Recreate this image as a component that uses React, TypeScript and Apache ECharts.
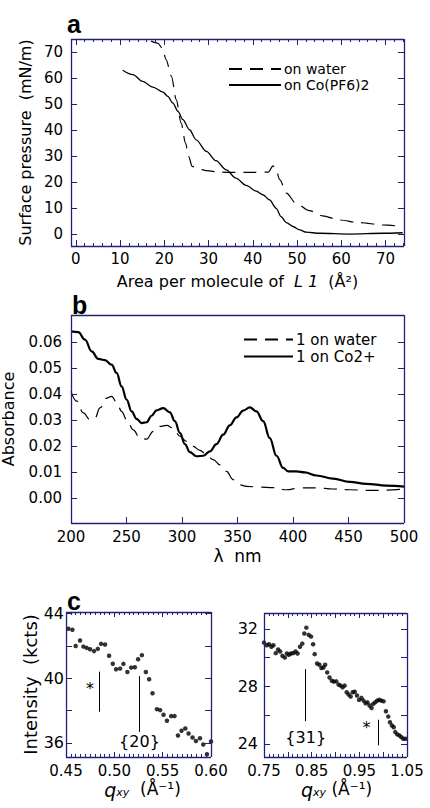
import React, { useEffect, useRef } from 'react';
import * as echarts from 'echarts';

const FONT = 'DejaVu Sans';
const FRAME = '#202078';

// ---------- Panel a : surface pressure isotherms ----------
const aWaterX = [17.0, 18.5, 19.6, 20.4, 21.6, 22.7, 23.8, 24.8, 25.5, 26.3, 27.6, 29.5, 32.5, 35.5, 40.0, 43.5, 44.6, 45.3, 46.1, 47.6, 49.8, 52.8, 55.8, 59.6, 64.1, 69.4, 73.9];
const aWaterY = [74.3, 73.5, 71.5, 67.2, 60.8, 51.8, 42.8, 35.1, 29.9, 26.1, 25.2, 24.5, 23.9, 23.8, 23.8, 23.9, 26.3, 24.5, 21.0, 15.8, 11.9, 9.1, 7.1, 5.5, 4.5, 3.6, 3.0];
const aCoX = [10.6, 12.9, 15.1, 17.4, 19.7, 20.8, 21.9, 23.1, 24.2, 25.7, 27.2, 29.5, 31.7, 34.0, 36.2, 38.5, 40.8, 42.3, 43.8, 45.3, 46.4, 47.6, 49.1, 50.6, 52.1, 55.1, 61.9, 69.4, 73.9];
const aCoY = [63.1, 61.4, 58.8, 56.6, 54.7, 53.0, 50.5, 47.3, 44.1, 40.2, 36.3, 31.9, 28.3, 24.8, 21.6, 18.8, 16.6, 15.2, 13.2, 10.0, 6.8, 4.5, 3.0, 1.7, 0.8, 0.4, 0.1, 0.4, 0.6];
const aXTicks = [0, 10, 20, 30, 40, 50, 60, 70];
const aYTicks = [0, 10, 20, 30, 40, 50, 60, 70];

// ---------- Panel b : absorbance spectra ----------
const bCoX = [200, 206.6, 212.6, 218.6, 224.6, 230.6, 236.6, 241.1, 245.6, 250.1, 254.6, 259.1, 263.6, 268.1, 272.6, 277.1, 283.1, 289.1, 293.6, 298.1, 302.6, 307.1, 313.1, 319.1, 325.1, 331.1, 337.1, 343.1, 349.1, 355.1, 361.1, 367.1, 373.1, 379.1, 385.1, 391.1, 395.6, 403.1, 410.6, 421.1, 436.1, 451.1, 466.1, 484.1, 500];
const bCoY = [0.0642, 0.0639, 0.061, 0.0565, 0.0536, 0.0531, 0.0514, 0.0482, 0.043, 0.0379, 0.0334, 0.0305, 0.0289, 0.0292, 0.0317, 0.0338, 0.0346, 0.033, 0.0296, 0.0251, 0.0208, 0.0177, 0.0161, 0.0163, 0.018, 0.0208, 0.0244, 0.028, 0.0311, 0.0337, 0.0349, 0.0334, 0.0296, 0.0231, 0.0163, 0.0116, 0.0103, 0.0103, 0.0099, 0.0087, 0.0075, 0.0062, 0.0055, 0.0048, 0.0044];
const bWaterX = [200, 205.1, 211.1, 217.1, 221.6, 226.1, 232.1, 236.6, 241.1, 245.6, 250.1, 256.1, 262.1, 268.1, 274.1, 280.1, 286.1, 292.1, 298.1, 304.1, 310.1, 316.1, 322.1, 328.1, 334.1, 340.1, 346.1, 352.1, 358.1, 370.1, 382.1, 394.1, 406.1, 421.1, 436.1, 451.1, 466.1, 481.1, 500];
const bWaterY = [0.0411, 0.0373, 0.0328, 0.0302, 0.0308, 0.0347, 0.0385, 0.0392, 0.0369, 0.0334, 0.0302, 0.0263, 0.0231, 0.0227, 0.0257, 0.0276, 0.028, 0.027, 0.0238, 0.0218, 0.0199, 0.0184, 0.0167, 0.0148, 0.0128, 0.0103, 0.0071, 0.0051, 0.0045, 0.0042, 0.004, 0.0032, 0.0039, 0.0039, 0.0035, 0.0032, 0.003, 0.003, 0.0035];
const bXTicks = [200, 250, 300, 350, 400, 450, 500];
const bYTicks = [0, 0.01, 0.02, 0.03, 0.04, 0.05, 0.06];

// ---------- Panel c : GIXD scans ----------
const c1X = [0.4524, 0.4566, 0.460, 0.4645, 0.468, 0.4714, 0.4749, 0.479, 0.4829, 0.4863, 0.4904, 0.4946, 0.4984, 0.5018, 0.506, 0.5094, 0.5135, 0.5174, 0.5212, 0.5246, 0.5285, 0.5326, 0.536, 0.5395, 0.544, 0.5474, 0.5509, 0.5544, 0.5588, 0.5623, 0.5658, 0.5695, 0.5734, 0.5768, 0.5809, 0.5844, 0.5886, 0.592, 0.5958, 0.6];
const c1Y = [43.06, 43.0, 42.0, 42.34, 41.96, 41.88, 41.8, 41.68, 41.82, 42.13, 42.09, 41.39, 40.9, 40.56, 40.6, 40.89, 40.39, 40.66, 40.68, 41.18, 41.43, 40.39, 39.94, 39.07, 38.09, 38.03, 37.74, 37.37, 37.66, 37.66, 36.46, 36.75, 36.89, 36.58, 36.34, 36.12, 36.29, 35.9, 35.3, 36.09];
const c2X = [0.75, 0.7557, 0.7606, 0.7655, 0.7697, 0.7747, 0.7796, 0.7838, 0.7887, 0.7937, 0.798, 0.8022, 0.8064, 0.8113, 0.8162, 0.8204, 0.8255, 0.8303, 0.8346, 0.8388, 0.8437, 0.8487, 0.853, 0.8563, 0.8614, 0.8663, 0.8705, 0.8747, 0.8783, 0.8826, 0.8874, 0.8923, 0.8965, 0.9016, 0.9064, 0.9107, 0.9149, 0.9191, 0.9234, 0.9276, 0.9318, 0.9361, 0.9403, 0.9451, 0.9494, 0.9544, 0.9587, 0.9629, 0.9671, 0.9713, 0.9756, 0.979, 0.9832, 0.9874, 0.9917, 0.9959, 1.0009, 1.0058, 1.0107, 1.0143, 1.0185, 1.0221, 1.0254, 1.0296, 1.0339, 1.0381, 1.0423, 1.0474];
const c2Y = [31.04, 30.86, 30.93, 30.75, 30.86, 30.31, 30.56, 30.42, 30.12, 30.0, 30.28, 30.19, 30.28, 30.31, 30.42, 30.28, 30.75, 30.97, 31.67, 32.08, 31.58, 31.46, 30.93, 30.24, 29.59, 29.5, 29.27, 29.31, 29.5, 28.97, 28.62, 28.39, 28.33, 28.35, 28.12, 28.05, 27.93, 28.05, 27.59, 27.43, 27.29, 27.59, 27.63, 27.36, 27.06, 27.2, 27.01, 26.82, 26.89, 26.67, 26.5, 26.78, 26.89, 27.01, 27.06, 27.01, 26.96, 26.27, 25.9, 25.51, 25.28, 25.16, 24.82, 24.66, 24.59, 24.47, 24.36, 24.36];
const c1XTicks = [0.45, 0.5, 0.55, 0.6];
const c1YTicks = [36, 38, 40, 42, 44];
const c1YLabels = [36, 40, 44];
const c2XTicks = [0.75, 0.8, 0.85, 0.9, 0.95, 1.0, 1.05];
const c2XLabels = [0.75, 0.85, 0.95, 1.05];
const c2YTicks = [24, 26, 28, 30, 32];
const c2YLabels = [24, 28, 32];
// reflection markers: [x, yLow, yHigh]
const c1Marks = [[0.4845, 37.93, 40.41], [0.526, 36.68, 40.14]];
const c1Texts: [number, number, string][] = [[0.4749, 39.38, '*'], [0.526, 36.06, '{20}']];
const c2Marks = [[0.8375, 25.58, 29.2], [0.99, 23.9, 25.68]];
const c2Texts: [number, number, string][] = [[0.8375, 24.47, '{31}'], [0.965, 25.16, '*']];

const zip = (xs: number[], ys: number[]) => xs.map((x, i) => [x, ys[i]]);
const steps = (a: number, b: number, s: number) => {
  const out: number[] = [];
  for (let i = 0; a + i * s <= b + 1e-9; i++) out.push(+(a + i * s).toFixed(6));
  return out;
};

type Ax = {
  min: number; max: number; major: number[]; minor: number[]; labels: number[];
  fmt: (v: number) => string; fontSize: number; margin: number;
  majorLen: number; minorLen: number; far: boolean; farMinor: boolean;
  name?: string; nameGap?: number; nameStyle?: any;
};
type Box = { left: number; top: number; width: number; height: number };

function axisOpt(grid: number, s: Ax, isX: boolean) {
  const o: any = {
    type: 'value', gridIndex: grid, min: s.min, max: s.max,
    position: isX ? 'bottom' : 'left',
    splitLine: { show: false }, splitArea: { show: false },
    axisLine: { show: false, onZero: false },
    axisTick: { show: false },
    axisLabel: { show: true, customValues: s.labels.slice(), formatter: s.fmt, color: '#000', fontFamily: FONT, fontSize: s.fontSize, margin: s.margin },
  };
  if (s.name) {
    o.name = s.name;
    o.nameLocation = 'middle';
    o.nameGap = s.nameGap;
    o.nameTextStyle = s.nameStyle;
  }
  return o;
}

// frame + inward ticks as markLine segments in the axes' data coordinates
function frameLines(X: Ax, Y: Ax, box: Box, color: string) {
  const dx = (X.max - X.min) / box.width;
  const dy = (Y.max - Y.min) / box.height;
  const out: any[] = [];
  const add = (x1: number, y1: number, x2: number, y2: number, w: number) =>
    out.push([{ coord: [x1, y1], lineStyle: { width: w, color } }, { coord: [x2, y2] }]);
  add(X.min, Y.min, X.max, Y.min, 1.3);
  add(X.min, Y.max, X.max, Y.max, 1.3);
  add(X.min, Y.min, X.min, Y.max, 1.3);
  add(X.max, Y.min, X.max, Y.max, 1.3);
  const xt = (vals: number[], len: number, far: boolean) => vals.forEach((v) => {
    add(v, Y.min, v, Y.min + len * dy, 1);
    if (far) add(v, Y.max, v, Y.max - len * dy, 1);
  });
  const yt = (vals: number[], len: number, far: boolean) => vals.forEach((v) => {
    add(X.min, v, X.min + len * dx, v, 1);
    if (far) add(X.max, v, X.max - len * dx, v, 1);
  });
  xt(X.major, X.majorLen, X.far);
  xt(X.minor, X.minorLen, X.farMinor);
  yt(Y.major, Y.majorLen, Y.far);
  yt(Y.minor, Y.minorLen, Y.farMinor);
  return out;
}

const markLineOf = (marks: number[][], frame: any[]) => ({
  silent: true, symbol: ['none', 'none'], label: { show: false },
  lineStyle: { color: '#000', width: 1, type: 'solid' },
  emphasis: { disabled: true },
  data: [
    ...frame,
    ...marks.map(([x, y1, y2]) => [{ coord: [x, y1] }, { coord: [x, y2] }]),
  ],
});

function textSeries(g: number, texts: [number, number, string][]) {
  return {
    type: 'scatter', name: 'txt' + g, xAxisIndex: g, yAxisIndex: g, silent: true,
    symbol: 'circle', symbolSize: 0, itemStyle: { color: '#000', opacity: 0 },
    data: texts.map(([x, y, t]) => ({ value: [x, y], name: t })),
    label: {
      show: true, position: 'inside', formatter: (p: any) => p.name, color: '#000',
      fontFamily: FONT, fontSize: 16, opacity: 1,
    },
    labelLayout: { hideOverlap: false },
    emphasis: { disabled: true },
  };
}

const qRich = {
  q: { fontSize: 19, fontStyle: 'italic', fontFamily: FONT, color: '#000', lineHeight: 18, verticalAlign: 'top' },
  s: { fontSize: 11, fontStyle: 'italic', fontFamily: FONT, color: '#000', lineHeight: 2, verticalAlign: 'bottom' },
  n: { fontSize: 17, fontFamily: FONT, color: '#000', lineHeight: 18, verticalAlign: 'top' },
};

export default function App() {
  const ref = useRef<HTMLDivElement>(null);
  useEffect(() => {
    if (!ref.current) return;
    const chart = echarts.init(ref.current, undefined, { renderer: 'svg' });

    const aX: Ax = {
      min: -1.1, max: 74.2, major: aXTicks, minor: steps(0, 74, 2), labels: aXTicks, fmt: (v) => String(v),
      fontSize: 15, margin: 5, majorLen: 6, minorLen: 3, far: true, farMinor: true,
      name: 'Area per molecule of  {i|L 1}  (Å²)', nameGap: 27,
      nameStyle: { fontFamily: FONT, fontSize: 16, color: '#000', rich: { i: { fontFamily: FONT, fontSize: 16, fontStyle: 'italic', color: '#000' } } },
    };
    const aY: Ax = {
      min: -4.5, max: 75.1, major: aYTicks, minor: [], labels: aYTicks, fmt: (v) => String(v),
      fontSize: 15, margin: 8, majorLen: 6, minorLen: 3, far: true, farMinor: false,
      name: 'Surface pressure  (mN/m)', nameGap: 38, nameStyle: { fontFamily: FONT, fontSize: 16, color: '#000' },
    };
    const bX: Ax = {
      min: 200, max: 500, major: bXTicks, minor: [], labels: bXTicks, fmt: (v) => String(v),
      fontSize: 15, margin: 6, majorLen: 6, minorLen: 3, far: false, farMinor: false,
      name: 'λ  nm', nameGap: 24, nameStyle: { fontFamily: FONT, fontSize: 17, color: '#000' },
    };
    const bY: Ax = {
      min: -0.0096, max: 0.0705, major: bYTicks, minor: [], labels: bYTicks, fmt: (v) => v.toFixed(2),
      fontSize: 15, margin: 9, majorLen: 6, minorLen: 3, far: true, farMinor: false,
      name: 'Absorbance', nameGap: 55, nameStyle: { fontFamily: FONT, fontSize: 16, color: '#000' },
    };
    const c1XA: Ax = {
      min: 0.45, max: 0.6, major: c1XTicks, minor: steps(0.45, 0.6, 0.005), labels: c1XTicks, fmt: (v) => v.toFixed(2),
      fontSize: 15, margin: 6, majorLen: 5, minorLen: 3, far: true, farMinor: true,
      name: '{q|q}{s|xy}{n|  (Å⁻¹)}', nameGap: 23, nameStyle: { fontFamily: FONT, fontSize: 17, color: '#000', rich: qRich, padding: [0, 0, 0, 8] },
    };
    const c1YA: Ax = {
      min: 35.13, max: 44.1, major: c1YTicks, minor: [], labels: c1YLabels, fmt: (v) => String(v),
      fontSize: 16, margin: 2, majorLen: 6, minorLen: 3, far: true, farMinor: false,
      name: 'Intensity  (kcts)', nameGap: 24, nameStyle: { fontFamily: FONT, fontSize: 18, color: '#000' },
    };
    const c2XA: Ax = {
      min: 0.75, max: 1.05, major: c2XTicks, minor: steps(0.75, 1.05, 0.01), labels: c2XLabels, fmt: (v) => v.toFixed(2),
      fontSize: 15, margin: 6, majorLen: 5, minorLen: 3, far: true, farMinor: true,
      name: '{q|q}{s|xy}{n| (Å⁻¹)}', nameGap: 23, nameStyle: { fontFamily: FONT, fontSize: 17, color: '#000', rich: qRich, padding: [0, 0, 0, 2] },
    };
    const c2YA: Ax = {
      min: 23.09, max: 33.1, major: c2YTicks, minor: [], labels: c2YLabels, fmt: (v) => String(v),
      fontSize: 16, margin: 6, majorLen: 6, minorLen: 3, far: true, farMinor: false,
    };

    const boxes: Box[] = [
      { left: 71, top: 39, width: 333, height: 207 },
      { left: 71, top: 315, width: 333, height: 208 },
      { left: 66, top: 612, width: 145, height: 145 },
      { left: 264, top: 613, width: 143, height: 144 },
    ];

    const scatterBase = { type: 'scatter', symbol: 'circle', symbolSize: 4.5, itemStyle: { color: '#000' } };
    const legendCommon = {
      orient: 'vertical', itemHeight: 14, itemGap: 2, selectedMode: false, padding: 0,
      itemStyle: { color: 'rgba(0,0,0,0)', borderWidth: 0, opacity: 0 },
    };
    const letter = (t: string, left: number, top: number) => ({
      text: t, left, top, padding: 0,
      textStyle: { fontFamily: 'Liberation Sans', fontWeight: 'bold', fontSize: 25, color: '#000' },
    });

    chart.setOption({
      animation: false,
      backgroundColor: '#fff',
      title: [letter('a', 67, 11), letter('b', 72, 292), letter('c', 67, 588)],
      legend: [
        {
          ...legendCommon, data: ['on water', 'on Co(PF6)2'], left: 228, top: 62, itemWidth: 52,
          textStyle: { fontFamily: FONT, fontSize: 14, lineHeight: 14, color: '#000', padding: [0, 0, 0, -2] },
        },
        {
          ...legendCommon, data: ['1 on water', '1 on Co2+'], left: 243, top: 332, itemWidth: 49,
          textStyle: { fontFamily: FONT, fontSize: 15, lineHeight: 14, color: '#000', padding: [0, 0, 0, -2] },
        },
      ],
      grid: boxes.map((b) => ({ outerBoundsMode: 'none', containLabel: false, show: false, ...b })),
      xAxis: [axisOpt(0, aX, true), axisOpt(1, bX, true), axisOpt(2, c1XA, true), axisOpt(3, c2XA, true)],
      yAxis: [axisOpt(0, aY, false), axisOpt(1, bY, false), axisOpt(2, c1YA, false), axisOpt(3, c2YA, false)],
      series: [
        {
          name: 'on water', type: 'line', xAxisIndex: 0, yAxisIndex: 0, showSymbol: false, symbol: 'none',
          smooth: 0.3, smoothMonotone: 'x', data: zip(aWaterX, aWaterY),
          lineStyle: { color: '#000', width: 1.2, type: [13, 8] }, itemStyle: { color: '#000' },
        },
        {
          name: 'on Co(PF6)2', type: 'line', xAxisIndex: 0, yAxisIndex: 0, showSymbol: false, symbol: 'none',
          smooth: 0.3, smoothMonotone: 'x', data: zip(aCoX, aCoY),
          lineStyle: { color: '#000', width: 1.3, type: 'solid' }, itemStyle: { color: '#000' },
          markLine: markLineOf([], frameLines(aX, aY, boxes[0], FRAME)),
        },
        {
          name: '1 on water', type: 'line', xAxisIndex: 1, yAxisIndex: 1, showSymbol: false, symbol: 'none',
          smooth: 0.4, smoothMonotone: 'x', data: zip(bWaterX, bWaterY),
          lineStyle: { color: '#000', width: 1.2, type: [13, 8] }, itemStyle: { color: '#000' },
        },
        {
          name: '1 on Co2+', type: 'line', xAxisIndex: 1, yAxisIndex: 1, showSymbol: false, symbol: 'none',
          smooth: 0.4, smoothMonotone: 'x', data: zip(bCoX, bCoY),
          lineStyle: { color: '#000', width: 2.2, type: 'solid' }, itemStyle: { color: '#000' },
          markLine: markLineOf([], frameLines(bX, bY, boxes[1], FRAME)),
        },
        {
          ...scatterBase, name: 'c1', xAxisIndex: 2, yAxisIndex: 2, data: zip(c1X, c1Y),
          markLine: markLineOf(c1Marks, frameLines(c1XA, c1YA, boxes[2], FRAME)),
        },
        {
          ...scatterBase, name: 'c2', xAxisIndex: 3, yAxisIndex: 3, data: zip(c2X, c2Y),
          markLine: markLineOf(c2Marks, frameLines(c2XA, c2YA, boxes[3], FRAME)),
        },
        textSeries(2, c1Texts),
        textSeries(3, c2Texts),
      ],
    });

    return () => chart.dispose();
  }, []);

  return (
    <div
      ref={ref}
      style={{ position: 'fixed', left: 0, top: 0, width: 430, height: 808, background: '#fff' }}
    />
  );
}
